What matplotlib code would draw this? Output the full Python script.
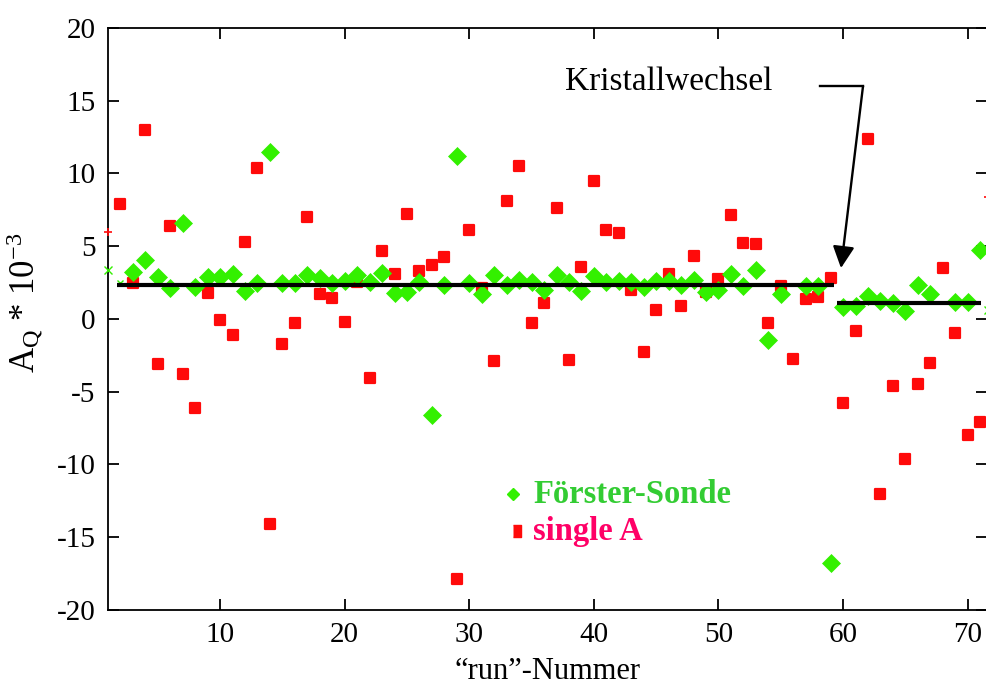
import numpy as np
import matplotlib
matplotlib.use("Agg")
import matplotlib.pyplot as plt
from matplotlib.markers import MarkerStyle

plt.rcParams['font.family'] = ['Liberation Serif', 'DejaVu Serif']
plt.rcParams['mathtext.fontset'] = 'custom'
plt.rcParams['mathtext.rm'] = 'Liberation Serif'
plt.rcParams['mathtext.it'] = 'Liberation Serif:italic'
plt.rcParams['axes.unicode_minus'] = False

nan = np.nan

# "run"-Nummer 2 .. 71
runs = list(range(2, 72))

# single A (rote Quadrate)
single_a = [7.9, 2.5, 13.0, -3.1, 6.4, -3.8, -6.1, 1.8, -0.1, -1.1,
            5.3, 10.4, -14.1, -1.75, -0.25, 7.0, 1.75, 1.45, -0.2, 2.55,
            -4.05, 4.7, 3.1, 7.2, 3.3, 3.7, 4.25, -17.9, 6.15, 2.1,
            -2.9, 8.1, 10.5, -0.25, 1.1, 7.6, -2.8, 3.6, 9.45, 6.15,
            5.9, 2.0, -2.3, 0.6, 3.1, 0.9, 4.3, 1.85, 2.75, 7.15,
            5.2, 5.15, -0.25, 2.25, -2.75, 1.4, 1.5, 2.8, -5.75, -0.8,
            12.35, -12.0, -4.6, -9.6, -4.5, -3.0, 3.5, -0.95, -8.0, -7.1]

# Förster-Sonde (gruene Rauten)
foerster = [nan, 3.2, 4.05, 2.9, 2.1, 6.6, 2.2, 2.9, 2.9, 3.1,
            1.95, 2.5, 11.5, 2.5, 2.45, 3.0, 2.8, 2.45, 2.6, 3.0,
            2.55, 3.15, 1.8, 1.85, 2.55, -6.6, 2.35, 11.2, 2.45, 1.75,
            3.0, 2.35, 2.7, 2.55, 2.0, 3.0, 2.55, 1.95, 2.95, 2.55,
            2.6, 2.55, 2.2, 2.6, 2.6, 2.35, 2.65, 1.85, 2.0, 3.1,
            2.3, 3.35, -1.45, 1.7, nan, 2.3, 2.3, -16.8, 0.8, 0.9,
            1.55, 1.25, 1.1, 0.55, 2.35, 1.75, nan, 1.2, 1.2, 4.75]

# Mittelwerte vor und nach dem Kristallwechsel
fit1_x = [1.7, 59.3]
fit1_y = [2.33, 2.33]
fit2_x = [59.5, 71.1]
fit2_y = [1.12, 1.12]

red = '#ff0a0a'
green = '#33f000'

fig = plt.figure(figsize=(9.87, 6.88), dpi=100)
ax = fig.add_axes([0.1094, 0.1134, 0.8906, 0.8459])

sq = MarkerStyle('s', joinstyle='round')
ax.plot(runs, single_a, linestyle='none', marker=sq, ms=6.7,
        mfc=red, mec=red, mew=1.6, zorder=3)
ax.plot(runs, foerster, linestyle='none', marker='D', ms=8.8,
        mfc=green, mec=green, mew=0.5, zorder=4)

# kleine Randmarker
ax.plot([1], [6.0], linestyle='none', marker='+', ms=6, mew=1.2, color=red, clip_on=False, zorder=5)
ax.plot([1], [3.35], linestyle='none', marker='x', ms=6, mew=1.0, color=green, clip_on=False, zorder=5)
ax.plot([2], [2.45], linestyle='none', marker='x', ms=5, mew=1.0, color=green, clip_on=False, zorder=4)
ax.plot([71.6], [8.4], linestyle='none', marker='+', ms=6, mew=1.2, color=red, clip_on=False, zorder=5)
ax.plot([71.6], [0.6], linestyle='none', marker='x', ms=6, mew=1.0, color=green, clip_on=False, zorder=5)

ax.plot(fit1_x, fit1_y, color='black', lw=3, solid_capstyle='butt', zorder=6)
ax.plot(fit2_x, fit2_y, color='black', lw=3, solid_capstyle='butt', zorder=6)

# Kristallwechsel Pfeil
ax.text(37.68, 15.74, 'Kristallwechsel', fontsize=24, color='black', ha='left', va='baseline')
ax.plot([58.14, 61.6], [16.01, 16.01], color='black', lw=1.7, solid_joinstyle='miter')
ax.annotate('', xy=(59.83, 3.5), xytext=(61.6, 16.01),
            arrowprops=dict(arrowstyle='-|>,head_length=0.6,head_width=0.3', lw=1.7,
                            color='black', shrinkA=0, shrinkB=0, mutation_scale=22))

# Legende
rect = [(-0.35, -0.5), (0.35, -0.5), (0.35, 0.5), (-0.35, 0.5)]
ax.plot([0.4608], [0.1993], transform=ax.transAxes, linestyle='none', marker='D',
        ms=6.3, color=green, clip_on=False)
ax.plot([0.4653], [0.1357], transform=ax.transAxes, linestyle='none', marker=rect,
        ms=9, color=red, clip_on=False)
ax.text(0.4835, 0.1833, 'Förster-Sonde', transform=ax.transAxes, fontsize=23.5,
        fontweight='bold', color='#33cc33', va='baseline')
ax.text(0.4835, 0.1203, 'single A', transform=ax.transAxes, fontsize=23.5,
        fontweight='bold', color='#ff0066', va='baseline')

ax.set_xlim(1, 71.55)
ax.set_ylim(-20, 20)
ax.set_xticks([10, 20, 30, 40, 50, 60, 70])
ax.set_yticks([-20, -15, -10, -5, 0, 5, 10, 15, 20])
ax.tick_params(direction='in', length=8, width=1.3, labelsize=21,
               top=True, right=True, pad=9)
for s in ax.spines.values():
    s.set_linewidth(1.3)
ax.spines['right'].set_visible(False)

ax.set_xlabel('\u201crun\u201d-Nummer', fontsize=22, labelpad=6)
ax.set_ylabel('A$_\\mathrm{Q}$ * 10$^{-3}$', fontsize=25)
ax.yaxis.set_label_coords(-0.072, 0.5275)

fig.savefig('out.png', dpi=100)
